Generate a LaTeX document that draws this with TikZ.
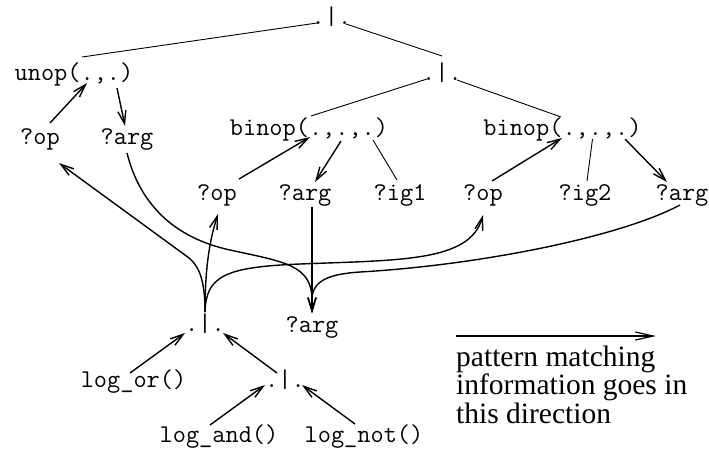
\documentclass[tikz,border=0pt]{standalone}
\usepackage{fontspec}
\setmainfont{Liberation Serif}
\usetikzlibrary{arrows.meta,calc}
\begin{document}
\begin{tikzpicture}[x=1pt,y=-1pt,
  code/.style={font=\fontsize{25.6}{28}\selectfont\ttfamily, inner sep=0pt, anchor=base},
  legtext/.style={font=\fontsize{29.5}{28.5}\selectfont, inner sep=0pt, anchor=base west},
  plain/.style={line width=0.9pt},
  arr/.style={line width=1.4pt, -{Straight Barb[length=13pt,width=8pt]}},
  legarr/.style={line width=1.2pt, -{Straight Barb[length=18pt,width=8pt]}}
]
\useasboundingbox (0,0) rectangle (709,448);

% nodes
\node[code] (top) at (331.5,24) {.|.};
\node[code] (mid) at (442,80) {.|.};
\node[code] (unop) at (74,80) {unop(.,.)};
\node[code] (opL) at (40,144) {?op};
\node[code] (argL) at (127,144) {?arg};
\node[code] (binL) at (309,135) {binop(.,.,.)};
\node[code] (binR) at (562.5,135) {binop(.,.,.)};
\node[code] (opM) at (217,200) {?op};
\node[code] (argM) at (305,200) {?arg};
\node[code] (ig1) at (400,200) {?ig1};
\node[code] (opR) at (483,200) {?op};
\node[code] (ig2) at (585,200) {?ig2};
\node[code] (argR) at (682,200) {?arg};
\node[code] (low) at (205,331) {.|.};
\node[code] (argB) at (312,332) {?arg};
\node[code] (logor) at (133.5,387) {log\_or()};
\node[code] (lowmid) at (285,387) {.|.};
\node[code] (logand) at (219,442) {log\_and()};
\node[code] (lognot) at (364,442) {log\_not()};

\node[legtext] (leg1) at (456,366) {pattern matching};
\node[legtext] (leg2) at (456,394.5) {information goes in};
\node[legtext] (leg3) at (456,423) {this direction};
\coordinate (legA) at (456,336);
\coordinate (legB) at (656,336);
\draw[legarr] (legA) -- (legB);

% plain tree lines
\draw[plain] ($(top.base)+(-14.5,-1)$) -- ($(unop.base)+(8,-23)$);
\draw[plain] ($(top.base)+(14.5,0)$) -- ($(mid.base)+(0,-24)$);
\draw[plain] ($(mid.base)+(-15,-1)$) -- ($(binL.base)+(2,-19)$);
\draw[plain] ($(mid.base)+(15,0)$) -- ($(binR.base)+(-1.5,-18)$);
\draw[plain] ($(binL.base)+(64,5)$) -- ($(ig1.base)+(-3,-20)$);
\draw[plain] ($(binR.base)+(30,4)$) -- ($(ig2.base)+(2,-19)$);

% straight arrows
\draw[arr] ($(opL.base)+(10,-21)$) -- ($(unop.base)+(13,3)$);
\draw[arr] ($(unop.base)+(43,8)$) -- ($(argL.base)+(-2,-18)$);
\draw[arr] ($(opM.base)+(22,-21)$) -- ($(binL.base)+(1,2)$);
\draw[arr] ($(binL.base)+(32,6)$) -- ($(argM.base)+(10,-18)$);
\draw[arr] ($(opR.base)+(9,-19)$) -- ($(binR.base)+(-0.5,3)$);
\draw[arr] ($(binR.base)+(62.5,4)$) -- ($(argR.base)+(-15,-18)$);
\draw[arr] ($(logor.base)+(-3.5,-14)$) -- ($(low.base)+(-20,2)$);
\draw[arr] ($(lowmid.base)+(-8,-14)$) -- ($(low.base)+(18,2)$);
\draw[arr] ($(logand.base)+(-9,-17)$) -- ($(lowmid.base)+(-20,-2)$);
\draw[arr] ($(lognot.base)+(-9,-18)$) -- ($(lowmid.base)+(17,-2)$);

% curved arrows from the fork
\coordinate (fork) at ($(low.base)+(0,-19)$);
\draw[arr] (fork) .. controls (205,275) and (197,263) .. (185,255) -- ($(opL.base)+(19,19)$);
\draw[arr] (fork) .. controls (205,262) and (211,236) .. ($(opM.base)+(1,14)$);
\draw[arr] (fork) .. controls (206,276) and (225,267) .. (300,264)
                 .. controls (400,260) and (470,262) .. ($(opR.base)+(0,15)$);

% arrows into bottom ?arg
\draw[arr] ($(argM.base)+(7,7)$) -- ($(argB.base)+(0,-19)$);
\draw[arr] ($(argL.base)+(0,9)$) .. controls (140,205) and (175,238) .. (230,250)
                 .. controls (285,262) and (312,265) .. (312,300) -- ($(argB.base)+(0,-19)$);
\draw[arr] ($(argR.base)+(-2,5)$) .. controls (620,237) and (480,265) .. (360,272)
                 .. controls (330,274) and (312,280) .. (312,300) -- ($(argB.base)+(0,-19)$);
\end{tikzpicture}
\end{document}
